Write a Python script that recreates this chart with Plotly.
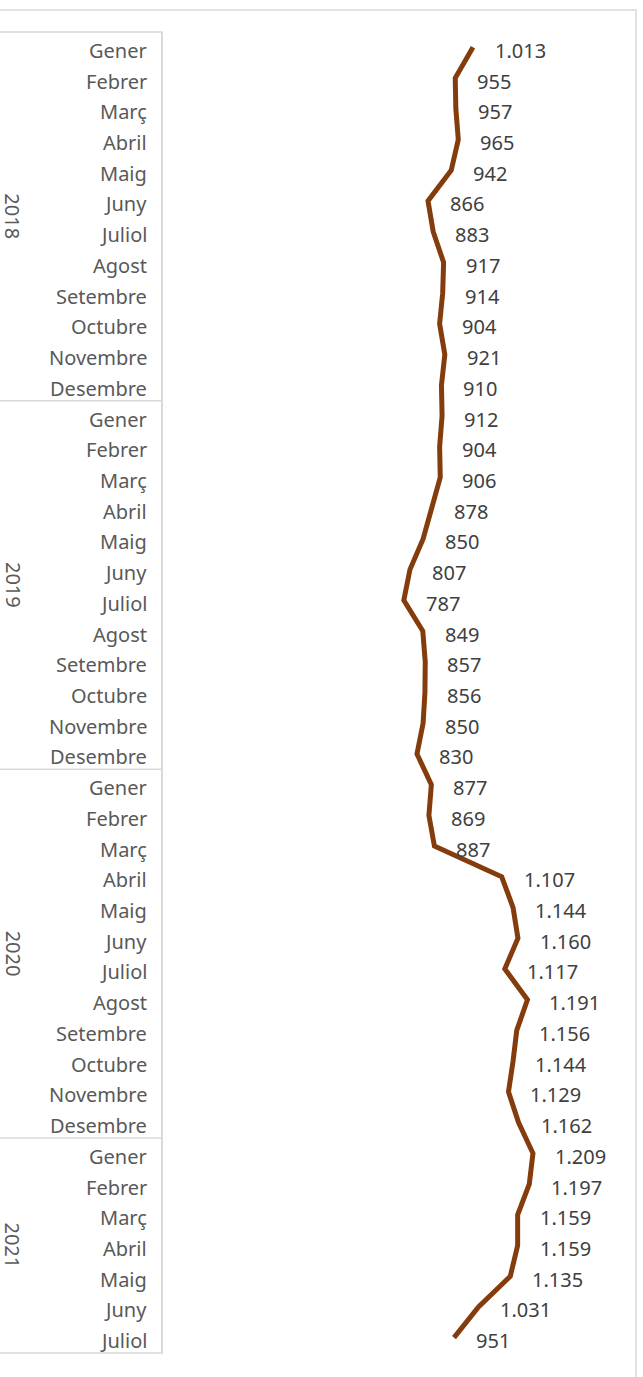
import plotly.graph_objects as go

# ---- data ----
years = ["2018", "2019", "2020", "2021"]
months = ["Gener", "Febrer", "Març", "Abril", "Maig", "Juny", "Juliol",
          "Agost", "Setembre", "Octubre", "Novembre", "Desembre"]
months_per_year = [12, 12, 12, 7]
values = [1013, 955, 957, 965, 942, 866, 883, 917, 914, 904, 921, 910,
          912, 904, 906, 878, 850, 807, 787, 849, 857, 856, 850, 830,
          877, 869, 887, 1107, 1144, 1160, 1117, 1191, 1156, 1144, 1129, 1162,
          1209, 1197, 1159, 1159, 1135, 1031, 951]

# ---- derived categories ----
cat_labels = []
year_spans = []
start = 0
for y, n in zip(years, months_per_year):
    cat_labels += months[:n]
    year_spans.append((y, start, start + n - 1))
    start += n
idx = list(range(len(values)))
n_cat = len(values)

# ---- layout geometry ----
W, H = 643, 1377
L, R, T, B = 163, 21, 32, 24
pw, ph = W - L - R, H - T - B
FONT = "Noto Sans"
GRID = "#D9D9D9"


def px_x(px):
    return (px - L) / pw


def px_y(py):
    return 1 - (py - T) / ph


def cat_y(i):
    # paper y of category position i on the reversed axis [-0.5, n-0.5]
    return (n_cat - 0.5 - i) / n_cat


def fmt(v):
    return f"{v:,}".replace(",", ".")


fig = go.Figure()
fig.add_trace(go.Scatter(
    x=values, y=idx, mode="lines",
    line=dict(color="#843C0C", width=5),
    hoverinfo="skip", showlegend=False,
))

annotations = []
for v, i in zip(values, idx):
    annotations.append(dict(
        x=v, y=i, xref="x", yref="y", text=fmt(v), showarrow=False,
        xanchor="left", yanchor="middle", xshift=20, yshift=-3,
        font=dict(family=FONT, size=20, color="#404040"),
    ))
for lab, i in zip(cat_labels, idx):
    annotations.append(dict(
        x=0, y=i, xref="paper", yref="y", text=lab, showarrow=False,
        xanchor="right", yanchor="middle", xshift=-14, yshift=-3,
        font=dict(family=FONT, size=20, color="#595959"),
    ))
for y, a, b in year_spans:
    annotations.append(dict(
        x=px_x(13), y=(a + b) / 2, xref="paper", yref="y", text=y,
        showarrow=False, textangle=90, xanchor="center", yanchor="middle",
        borderpad=0,
        font=dict(family=FONT, size=20, color="#595959"),
    ))

shapes = [
    dict(type="rect", xref="paper", yref="paper",
         x0=px_x(-2), x1=px_x(636), y0=px_y(H + 20), y1=px_y(10),
         line=dict(color=GRID, width=1.5), fillcolor="rgba(0,0,0,0)", layer="below"),
]
bounds = [-0.5] + [b + 0.5 for _, _, b in year_spans]
for bnd in bounds:
    shapes.append(dict(type="line", xref="paper", yref="paper",
                       x0=px_x(0), x1=0, y0=cat_y(bnd), y1=cat_y(bnd),
                       line=dict(color=GRID, width=1.5)))

fig.update_layout(
    width=W, height=H,
    margin=dict(l=L, r=R, t=T, b=B, pad=0),
    paper_bgcolor="white", plot_bgcolor="white",
    showlegend=False,
    xaxis=dict(range=[0, 1500], visible=False, fixedrange=True),
    yaxis=dict(range=[n_cat - 0.5, -0.5], tickmode="array", tickvals=idx,
               showticklabels=False, showgrid=False, zeroline=False,
               showline=True, linecolor=GRID, linewidth=1.5, ticks="",
               fixedrange=True),
    annotations=annotations,
    shapes=shapes,
)

fig.write_html(
    "out.html",
    config={"displayModeBar": False},
    post_script="document.body.style.margin='0';document.body.style.padding='0';document.body.style.overflow='hidden';",
)
